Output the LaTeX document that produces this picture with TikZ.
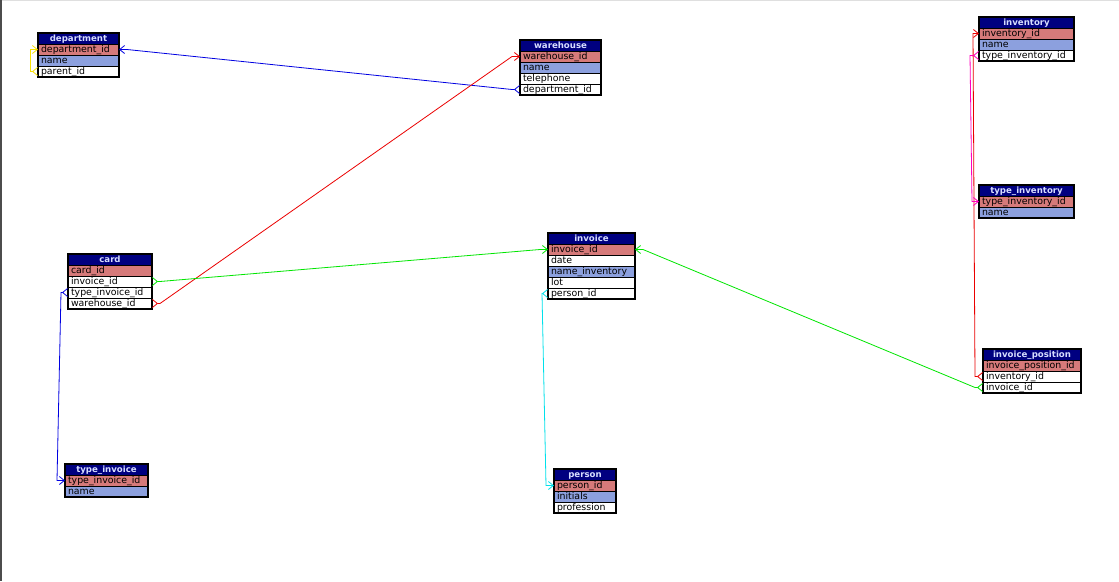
\documentclass[tikz,border=0pt]{standalone}
\usepackage{fontspec}
\newfontfamily\erfont{DejaVu Sans}
\usetikzlibrary{arrows.meta,calc}

\definecolor{hdrblue}{RGB}{0,0,128}
\definecolor{hdrtext}{RGB}{215,222,255}
\definecolor{pkred}{RGB}{214,122,122}
\definecolor{attrblue}{RGB}{140,160,222}
\definecolor{relblue}{RGB}{0,0,225}
\definecolor{relred}{RGB}{235,0,0}
\definecolor{relgreen}{RGB}{0,230,0}
\definecolor{relyellow}{RGB}{250,225,0}
\definecolor{relcyan}{RGB}{0,225,235}
\definecolor{relpink}{RGB}{255,0,190}

\tikzset{
  x=1pt, y=-1pt,
  cell/.style={draw=black, line width=0.8pt, minimum height=11pt,
    inner ysep=0pt, inner xsep=3pt, outer sep=0pt, anchor=north west,
    align=left, text height=7pt, text depth=2pt,
    font=\erfont\fontsize{9.4}{10}\selectfont, text=black},
  hdr/.style={cell, fill=hdrblue, text=hdrtext, align=center,
    font=\erfont\bfseries\fontsize{8.6}{10}\selectfont},
  pk/.style={cell, fill=pkred},
  attr/.style={cell, fill=attrblue},
  plain/.style={cell, fill=white},
  frame/.style={draw=black, line width=1.6pt},
  rel/.style={line width=0.8pt,
    {Straight Barb[reversed,length=5pt,width=8pt]}-{Straight Barb[length=5pt,width=8pt]}},
}

% table title: name, x, y, text width, title
\newcommand\ertitle[5]{\node[hdr, text width=#4] (#1) at (#2,#3) {#5};}
% table row: name, row above, style, text width, text
\newcommand\errow[5]{\node[#3, text width=#4] (#1) at (#2.south west) {#5};}

\begin{document}
\begin{tikzpicture}
\useasboundingbox (0,0) rectangle (1119,581);
\fill[white] (0,0) rectangle (1119,581);
\draw[gray!25, line width=0.8pt] (0,0.4) -- (1119,0.4);
\draw[gray!60!black, line width=1.5pt] (0.75,0) -- (0.75,581);

% department
\ertitle{dept}{38}{33}{75pt}{department}
\errow{dept-id}{dept}{pk}{75pt}{department\_id}
\errow{dept-name}{dept-id}{attr}{75pt}{name}
\errow{dept-parent}{dept-name}{plain}{75pt}{parent\_id}
\draw[frame] (dept.north west) rectangle (dept-parent.south east);

% warehouse
\ertitle{wh}{520}{40}{75pt}{warehouse}
\errow{wh-id}{wh}{pk}{75pt}{warehouse\_id}
\errow{wh-name}{wh-id}{attr}{75pt}{name}
\errow{wh-tel}{wh-name}{plain}{75pt}{telephone}
\errow{wh-dept}{wh-tel}{plain}{75pt}{department\_id}
\draw[frame] (wh.north west) rectangle (wh-dept.south east);

% inventory
\ertitle{inv}{979}{17}{89pt}{inventory}
\errow{inv-id}{inv}{pk}{89pt}{inventory\_id}
\errow{inv-name}{inv-id}{attr}{89pt}{name}
\errow{inv-type}{inv-name}{plain}{89pt}{type\_inventory\_id}
\draw[frame] (inv.north west) rectangle (inv-type.south east);

% type_inventory
\ertitle{tinv}{979}{185}{89pt}{type\_inventory}
\errow{tinv-id}{tinv}{pk}{89pt}{type\_inventory\_id}
\errow{tinv-name}{tinv-id}{attr}{89pt}{name}
\draw[frame] (tinv.north west) rectangle (tinv-name.south east);

% card
\ertitle{card}{68}{254}{78pt}{card}
\errow{card-id}{card}{pk}{78pt}{card\_id}
\errow{card-inv}{card-id}{plain}{78pt}{invoice\_id}
\errow{card-type}{card-inv}{plain}{78pt}{type\_invoice\_id}
\errow{card-wh}{card-type}{plain}{78pt}{warehouse\_id}
\draw[frame] (card.north west) rectangle (card-wh.south east);

% invoice
\ertitle{invc}{548}{233}{81pt}{invoice}
\errow{invc-id}{invc}{pk}{81pt}{invoice\_id}
\errow{invc-date}{invc-id}{plain}{81pt}{date}
\errow{invc-name}{invc-date}{attr}{81pt}{name\_inventory}
\errow{invc-lot}{invc-name}{plain}{81pt}{lot}
\errow{invc-person}{invc-lot}{plain}{81pt}{person\_id}
\draw[frame] (invc.north west) rectangle (invc-person.south east);

% invoice_position
\ertitle{ip}{983}{349}{92pt}{invoice\_position}
\errow{ip-id}{ip}{pk}{92pt}{invoice\_position\_id}
\errow{ip-inv}{ip-id}{plain}{92pt}{inventory\_id}
\errow{ip-invc}{ip-inv}{plain}{92pt}{invoice\_id}
\draw[frame] (ip.north west) rectangle (ip-invc.south east);

% type_invoice
\ertitle{ti}{65}{464}{77pt}{type\_invoice}
\errow{ti-id}{ti}{pk}{77pt}{type\_invoice\_id}
\errow{ti-name}{ti-id}{attr}{77pt}{name}
\draw[frame] (ti.north west) rectangle (ti-name.south east);

% person
\ertitle{per}{554}{469}{56pt}{person}
\errow{per-id}{per}{pk}{56pt}{person\_id}
\errow{per-init}{per-id}{attr}{56pt}{initials}
\errow{per-prof}{per-init}{plain}{56pt}{profession}
\draw[frame] (per.north west) rectangle (per-prof.south east);

% relations: foreign key end first, referenced key last
\draw[rel, relyellow] (dept-parent.west) -- ++(-8,0) |- (dept-id.west);
\draw[rel, relblue] (wh-dept.west) -- ++(-8,0) -- ($(dept-id.east)+(8,0)$) -- (dept-id.east);
\draw[rel, relred] (card-wh.east) -- ++(8,0) -- ($(wh-id.west)+(-8,0)$) -- (wh-id.west);
\draw[rel, relgreen] (card-inv.east) -- ++(8,0) -- ($(invc-id.west)+(-8,0)$) -- (invc-id.west);
\draw[rel, relblue] (card-type.west) -- ++(-7,0) -- ($(ti-id.west)+(-8,0)$) -- (ti-id.west);
\draw[rel, relcyan] (invc-person.west) -- ++(-6,0) -- ($(per-id.west)+(-8,0)$) -- (per-id.west);
\draw[rel, relgreen] (ip-invc.west) -- ++(-8,0) -- ($(invc-id.east)+(8,0)$) -- (invc-id.east);
\draw[rel, relred] (ip-inv.west) -- ++(-8,0) -- ($(inv-id.west)+(-6,0)$) -- (inv-id.west);
\draw[rel, relpink] (inv-type.west) -- ++(-9,0) -- ($(tinv-id.west)+(-7,0)$) -- (tinv-id.west);
\end{tikzpicture}
\end{document}
